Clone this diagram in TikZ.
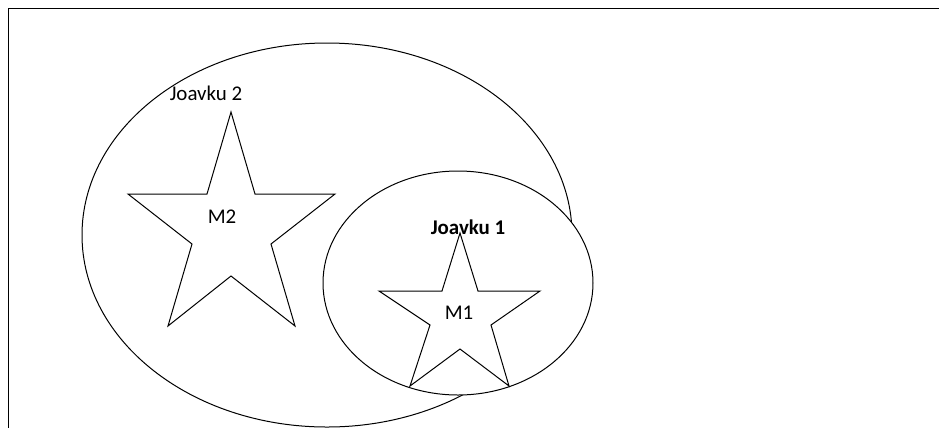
\documentclass[tikz,border=0pt]{standalone}
\usepackage{fontspec}
\setmainfont{Carlito}
\tikzset{
  outline/.style={draw=black, line width=1bp},
  lbl/.style={inner sep=0pt, font=\fontsize{21}{25}\selectfont},
}
\begin{document}
\begin{tikzpicture}[x=1bp, y=-1bp]
\useasboundingbox (0,0) rectangle (939,428);
% frame
\coordinate (ftr) at (939,8);
\coordinate (ftl) at (8,8);
\coordinate (fbl) at (8,428);
\draw[outline] (ftr) -- (ftl) -- (fbl);
% big ellipse
\draw[outline] (327,235) ellipse [x radius=245, y radius=192];
% star M2
\draw[outline, line join=miter] (231,112) -- (255,194) -- (335,194) -- (271,244) -- (295,326) -- (231,276) -- (168,326) -- (192,244) -- (128,194) -- (207,194) -- cycle;
\node[lbl] (m2) at (222,217) {M2};
\node[lbl] (j2) at (206,93) {Joavku 2};
% small ellipse
\draw[outline, fill=white] (458,283) ellipse [x radius=135, y radius=112];
% star M1
\draw[outline, line join=miter] (460,233) -- (478,291) -- (540,291) -- (491,325) -- (509,386) -- (460,349) -- (410,386) -- (430,325) -- (379,291) -- (442,291) -- cycle;
\node[lbl] (m1) at (459,313) {M1};
\node[lbl, font=\fontsize{21}{25}\selectfont\bfseries] (j1) at (468,227) {Joavku 1};
\end{tikzpicture}
\end{document}
